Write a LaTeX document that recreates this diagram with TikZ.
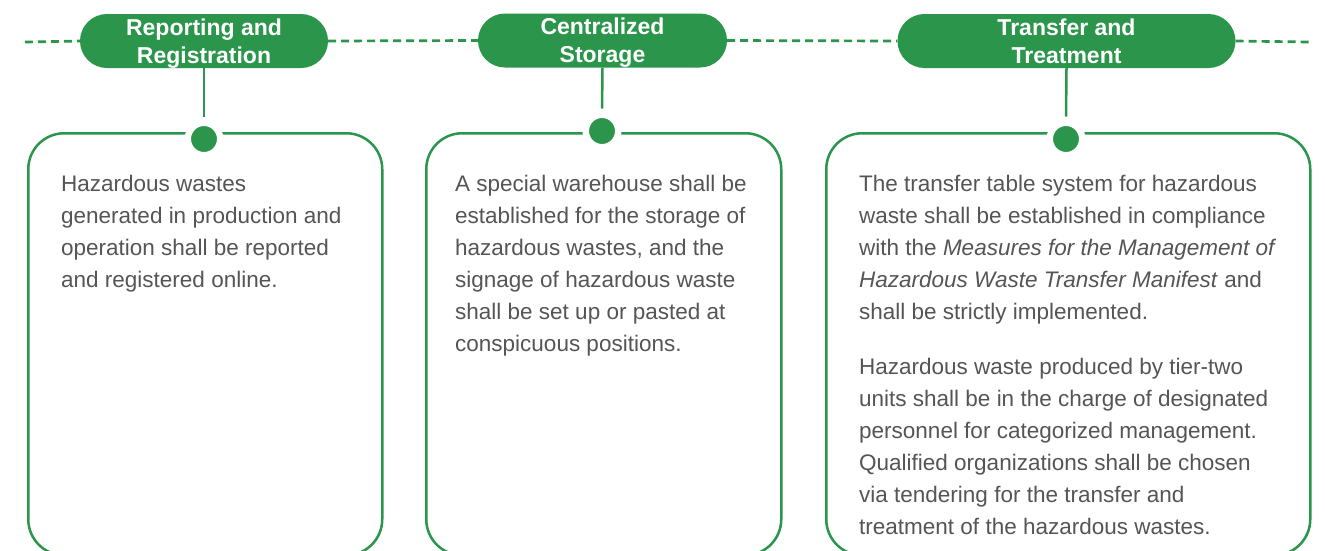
\documentclass[tikz,border=0pt]{standalone}
\usepackage{fontspec}
\setmainfont{Liberation Sans}
\definecolor{grn}{HTML}{2B964B}
\definecolor{txt}{HTML}{555555}
\begin{document}
\begin{tikzpicture}[x=1pt,y=-1pt,
  pill/.style={fill=grn, rounded corners=27pt, minimum height=54pt, inner sep=0pt},
  ttl/.style={text=white, align=center, inner sep=0pt, font=\bfseries\fontsize{23}{28}\selectfont, yshift=-2.4pt},
  card/.style={draw=grn, line width=2.5pt, rounded corners=36pt, anchor=north west, inner sep=0pt, minimum height=422pt},
  body/.style={text=txt, align=left, anchor=north west, inner sep=0pt, font=\fontsize{22.5}{32}\selectfont},
  dot/.style={circle, fill=grn, draw=white, line width=6.5pt, minimum size=32.5pt, inner sep=0pt},
  link/.style={grn, line width=2.5pt},
  dashline/.style={grn, line width=2.7pt, dash pattern=on 8pt off 5pt}]
\useasboundingbox (0,0) rectangle (1325,550);
\fill[white] (0,0) rectangle (1325,550);

% pills
\node[pill, minimum width=248pt] (p1) at (204,41) {};
\node[pill, minimum width=249pt] (p2) at (602.5,40.5) {};
\node[pill, minimum width=338pt] (p3) at (1066.5,41) {};

% dashed timeline
\coordinate (dl) at (25,42);
\coordinate (dr) at (1310,42);
\draw[dashline] (dl) -- (p1.west);
\draw[dashline] (p1.east) -- (p2.west);
\draw[dashline] (p2.east) -- (p3.west);
\draw[dashline] (p3.east) -- (dr);

% titles
\node[ttl] (t1) at (p1.center) {\strut Reporting and\\Registration\strut};
\node[ttl] (t2) at (p2.center) {\strut Centralized\\Storage\strut};
\node[ttl] (t3) at (p3.center) {\strut Transfer and\\Treatment\strut};

% cards
\node[card, minimum width=354pt] (c1) at (27,132) {};
\node[card, minimum width=355pt] (c2) at (425,132) {};
\node[card, minimum width=484pt] (c3) at (825,132) {};

% dots
\node[dot] (d1) at (204,139) {};
\node[dot] (d2) at (602,131) {};
\node[dot] (d3) at (1066,139) {};

% links
\draw[link, shorten >=3pt] (p1.south) -- (d1.north);
\draw[link, shorten >=3pt] (p2.south) -- (d2.north);
\draw[link, shorten >=3pt] (p3.south) -- (d3.north);

% body texts
\node[body] (b1) at (61,175) {Hazardous wastes\\generated in production and\\operation shall be reported\\and registered online.};
\node[body] (b2) at (455,175) {A special warehouse shall be\\established for the storage of\\hazardous wastes, and the\\signage of hazardous waste\\shall be set up or pasted at\\conspicuous positions.};
\node[body] (b3) at (859,175) {The transfer table system for hazardous\\waste shall be established in compliance\\with the \textit{Measures for the Management of}\\\textit{Hazardous Waste Transfer Manifest} and\\shall be strictly implemented.};
\node[body] (b4) at (859,358) {Hazardous waste produced by tier-two\\units shall be in the charge of designated\\personnel for categorized management.\\Qualified organizations shall be chosen\\via tendering for the transfer and\\treatment of the hazardous wastes.};
\end{tikzpicture}
\end{document}
